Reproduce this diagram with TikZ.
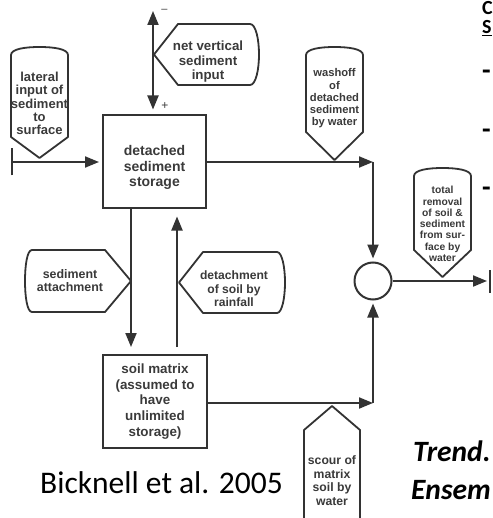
\documentclass[tikz,border=0pt]{standalone}
\usepackage{fontspec}
\setmainfont{Liberation Sans}
\newfontfamily\calfont{Carlito}
\usetikzlibrary{arrows.meta,calc}
\definecolor{ink}{HTML}{333333}
\definecolor{txt}{HTML}{3A3A3A}
\begin{document}
\begin{tikzpicture}[x=1pt,y=-1pt,
  ln/.style={draw=ink,line width=2pt},
  arr/.style={ln,-{Triangle[length=14pt,width=11pt]}},
  shp/.style={draw=ink,line width=1.8pt,fill=white,line join=round},
  box/.style={draw=ink,line width=2pt,rectangle,inner sep=0pt,minimum width=103pt,minimum height=93pt},
  lbl/.style={text=txt,align=center,inner sep=0pt},
  slide/.style={anchor=base west,inner sep=0pt,text=black},
]
\useasboundingbox (0,0) rectangle (492,518);
\clip (0,0) rectangle (492,518);

% display shapes
\draw[shp] (11,137) -- (11,55) .. controls (11,49) and (25,47) .. (39.5,47) .. controls (54,47) and (68,49) .. (68,55) -- (68,137) -- (39.5,158) -- cycle;
\draw[shp] (306,132) -- (306,55) .. controls (306,49) and (320,47) .. (334.5,47) .. controls (349,47) and (363,49) .. (363,55) -- (363,132) -- (334.5,160) -- cycle;
\draw[shp] (414,250) -- (414,176) .. controls (414,170) and (428,168) .. (442.5,168) .. controls (457,168) and (471,170) .. (471,176) -- (471,250) -- (442.5,277) -- cycle;
\draw[shp] (178,24) -- (250,24) .. controls (256,24) and (259,40) .. (259,54.5) .. controls (259,69) and (256,85) .. (250,85) -- (178,85) -- (154,54.5) -- cycle;
\draw[shp] (105,250) -- (131,281) -- (105,312) -- (32,312) .. controls (27,312) and (25,296) .. (25,281) .. controls (25,266) and (27,250) .. (32,250) -- cycle;
\draw[shp] (203,252) -- (277,252) .. controls (282,252) and (285,267) .. (285,282.5) .. controls (285,298) and (282,313) .. (277,313) -- (203,313) -- (179,282.5) -- cycle;
\draw[shp] (304,530) -- (304,430) -- (332,406) -- (360,430) -- (360,530);

% boxes and junction
\node[box] (ds) at (154.5,162) {};
\node[box,minimum width=104pt] (sm) at (155,401.5) {};
\node[draw=ink,line width=2pt,circle,minimum size=37pt,inner sep=0pt] (c) at (373,281) {};

% coordinates
\coordinate (latS) at (11,162);
\coordinate (vt) at (153,11);
\coordinate (xl) at (131,0);
\coordinate (xr) at (177,0);
\coordinate (cTop) at (373,162);
\coordinate (cBot) at (373,403);
\coordinate (out) at (487,281);
\coordinate (outB) at (490,281);

% connectors
\draw[ln,{Bar[width=27pt]}-{Triangle[length=14pt,width=11pt]},shorten >=3pt] (latS) -- (ds.west |- latS);
\draw[ln,{Triangle[length=14pt,width=11pt]}-{Triangle[length=14pt,width=11pt]},shorten >=5pt] (vt) -- (ds.north -| vt);
\draw[arr] (ds.east |- cTop) -- (cTop);
\draw[arr,shorten >=3pt] (cTop) -- (c.north);
\draw[arr] (sm.east |- cBot) -- (cBot);
\draw[arr,shorten >=3pt] (cBot) -- (c.south);
\draw[arr,shorten >=7pt] (ds.south -| xl) -- (sm.north -| xl);
\draw[arr,shorten >=7pt,shorten <=7pt] (sm.north -| xr) -- (ds.south -| xr);
\draw[arr] (c.east) -- (out);
\draw[ln] ($(outB)+(0,-11)$) -- ($(outB)+(0,12)$);

% signs
\node[lbl,font=\fontsize{11}{12}\selectfont] (minus) at (164.5,11) {–};
\node[lbl,font=\fontsize{12}{13}\selectfont] (plus) at (165,106) {+};

% labels
\node[lbl,font=\fontsize{13}{13.3}\selectfont\bfseries] (tLat) at (39.5,103.5) {lateral\\input of\\sediment\\to\\surface};
\node[lbl,font=\fontsize{13.3}{14.5}\selectfont\bfseries] (tNet) at (208,62) {net vertical\\sediment\\input};
\node[lbl,font=\fontsize{11.2}{12.2}\selectfont\bfseries] (tWash) at (334.5,98.5) {washoff\\of\\detached\\sediment\\by water};
\node[lbl,font=\fontsize{10.3}{11.3}\selectfont\bfseries] (tTot) at (442.5,224) {total\\removal\\of soil \&\\sediment\\from sur-\\face by\\water};
\node[lbl,font=\fontsize{14}{15.5}\selectfont\bfseries] (tDs) at (154.5,167.5) {detached\\sediment\\storage};
\node[lbl,font=\fontsize{13.4}{15.7}\selectfont\bfseries] (tSm) at (155,401.5) {soil matrix\\(assumed to\\have\\unlimited\\storage)};
\node[lbl,font=\fontsize{12.4}{13}\selectfont\bfseries] (tAtt) at (70,280.5) {sediment\\attachment};
\node[lbl,font=\fontsize{12.1}{13.5}\selectfont\bfseries] (tDet) at (234,289) {detachment\\of soil by\\rainfall};
\node[lbl,font=\fontsize{12.2}{13.7}\selectfont\bfseries] (tSc) at (332,480.5) {scour of\\matrix\\soil by\\water};

% slide text
\node[slide,font=\calfont\fontsize{31.5}{36}\selectfont] (cite) at (40,493) {Bicknell et al. 2005};
\node[slide,font=\calfont\fontsize{29.5}{34}\selectfont\bfseries\itshape] (tr1) at (413,461) {Trend.};
\node[slide,font=\calfont\fontsize{29.5}{34}\selectfont\bfseries\itshape] (tr2) at (411,499) {Ensem};
\node[slide,font=\calfont\fontsize{20}{24}\selectfont\bfseries] (h1) at (482,15) {C};
\node[slide,font=\calfont\fontsize{20}{24}\selectfont\bfseries] (h2) at (482,34) {\underline{S}};
\node[slide,font=\calfont\fontsize{28}{32}\selectfont\bfseries] (b1) at (482,80) {-};
\node[slide,font=\calfont\fontsize{28}{32}\selectfont\bfseries] (b2) at (482,139) {-};
\node[slide,font=\calfont\fontsize{28}{32}\selectfont\bfseries] (b3) at (482,197) {-};
\end{tikzpicture}
\end{document}
